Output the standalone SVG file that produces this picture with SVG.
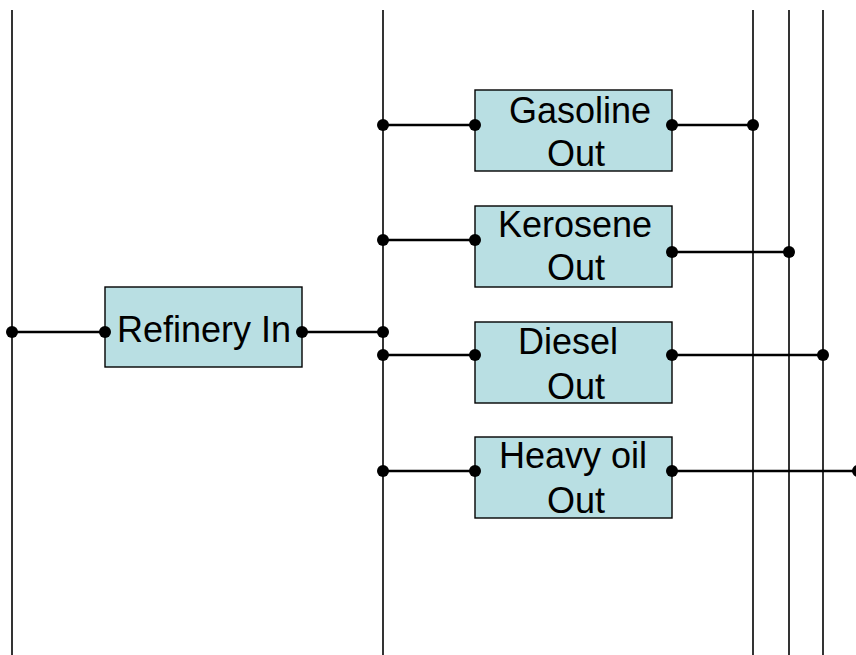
<svg xmlns="http://www.w3.org/2000/svg" width="856" height="655" viewBox="0 0 856 655">
<style>
.bus{stroke:#000;stroke-width:1.6;fill:none}
.wire{stroke:#000;stroke-width:2.4;fill:none}
.box{fill:#B9DFE3;stroke:#000;stroke-width:1.4}
.dot{fill:#000}
text{font-family:"Liberation Sans",Arial,sans-serif;font-size:36px;fill:#000;text-anchor:middle}
</style>
<rect width="856" height="655" fill="#fff"/>
<g id="refinery">
<rect class="box" x="105" y="287" width="197" height="80"/>
<text x="204" y="341.5">Refinery In</text>
</g>
<g id="gasoline">
<rect class="box" x="475" y="90" width="197" height="81"/>
<text x="580" y="122.5">Gasoline</text>
<text x="576" y="165.5">Out</text>
</g>
<g id="kerosene">
<rect class="box" x="475" y="206" width="197" height="81"/>
<text x="575" y="237">Kerosene</text>
<text x="576" y="280">Out</text>
</g>
<g id="diesel">
<rect class="box" x="475" y="322" width="197" height="81"/>
<text x="568" y="353.5">Diesel</text>
<text x="576" y="398.5">Out</text>
</g>
<g id="heavyoil">
<rect class="box" x="475" y="437" width="197" height="81"/>
<text x="573" y="467.5">Heavy oil</text>
<text x="576" y="512.5">Out</text>
</g>
<g id="connectors">
<line class="bus" x1="12" y1="10" x2="12" y2="655"/>
<line class="bus" x1="383" y1="10" x2="383" y2="655"/>
<line class="bus" x1="753" y1="10" x2="753" y2="655"/>
<line class="bus" x1="789" y1="10" x2="789" y2="655"/>
<line class="bus" x1="823" y1="10" x2="823" y2="655"/>
<line class="wire" x1="12" y1="332" x2="105" y2="332"/>
<line class="wire" x1="302" y1="332" x2="383" y2="332"/>
<line class="wire" x1="383" y1="125" x2="475" y2="125"/>
<line class="wire" x1="383" y1="240" x2="475" y2="240"/>
<line class="wire" x1="383" y1="355" x2="475" y2="355"/>
<line class="wire" x1="383" y1="471" x2="475" y2="471"/>
<line class="wire" x1="672" y1="125" x2="753" y2="125"/>
<line class="wire" x1="672" y1="252" x2="789" y2="252"/>
<line class="wire" x1="672" y1="355" x2="823" y2="355"/>
<line class="wire" x1="672" y1="471" x2="858" y2="471" stroke-width="3"/>
<circle class="dot" cx="12" cy="332" r="6"/>
<circle class="dot" cx="105" cy="332" r="6"/>
<circle class="dot" cx="302" cy="332" r="6"/>
<circle class="dot" cx="383" cy="332" r="6"/>
<circle class="dot" cx="383" cy="125" r="6"/>
<circle class="dot" cx="475" cy="125" r="6"/>
<circle class="dot" cx="383" cy="240" r="6"/>
<circle class="dot" cx="475" cy="240" r="6"/>
<circle class="dot" cx="383" cy="355" r="6"/>
<circle class="dot" cx="475" cy="355" r="6"/>
<circle class="dot" cx="383" cy="471" r="6"/>
<circle class="dot" cx="475" cy="471" r="6"/>
<circle class="dot" cx="672" cy="125" r="6"/>
<circle class="dot" cx="753" cy="125" r="6"/>
<circle class="dot" cx="672" cy="252" r="6"/>
<circle class="dot" cx="789" cy="252" r="6"/>
<circle class="dot" cx="672" cy="355" r="6"/>
<circle class="dot" cx="823" cy="355" r="6"/>
<circle class="dot" cx="672" cy="471" r="6"/>
<circle class="dot" cx="858" cy="471" r="6"/>
</g>
</svg>
